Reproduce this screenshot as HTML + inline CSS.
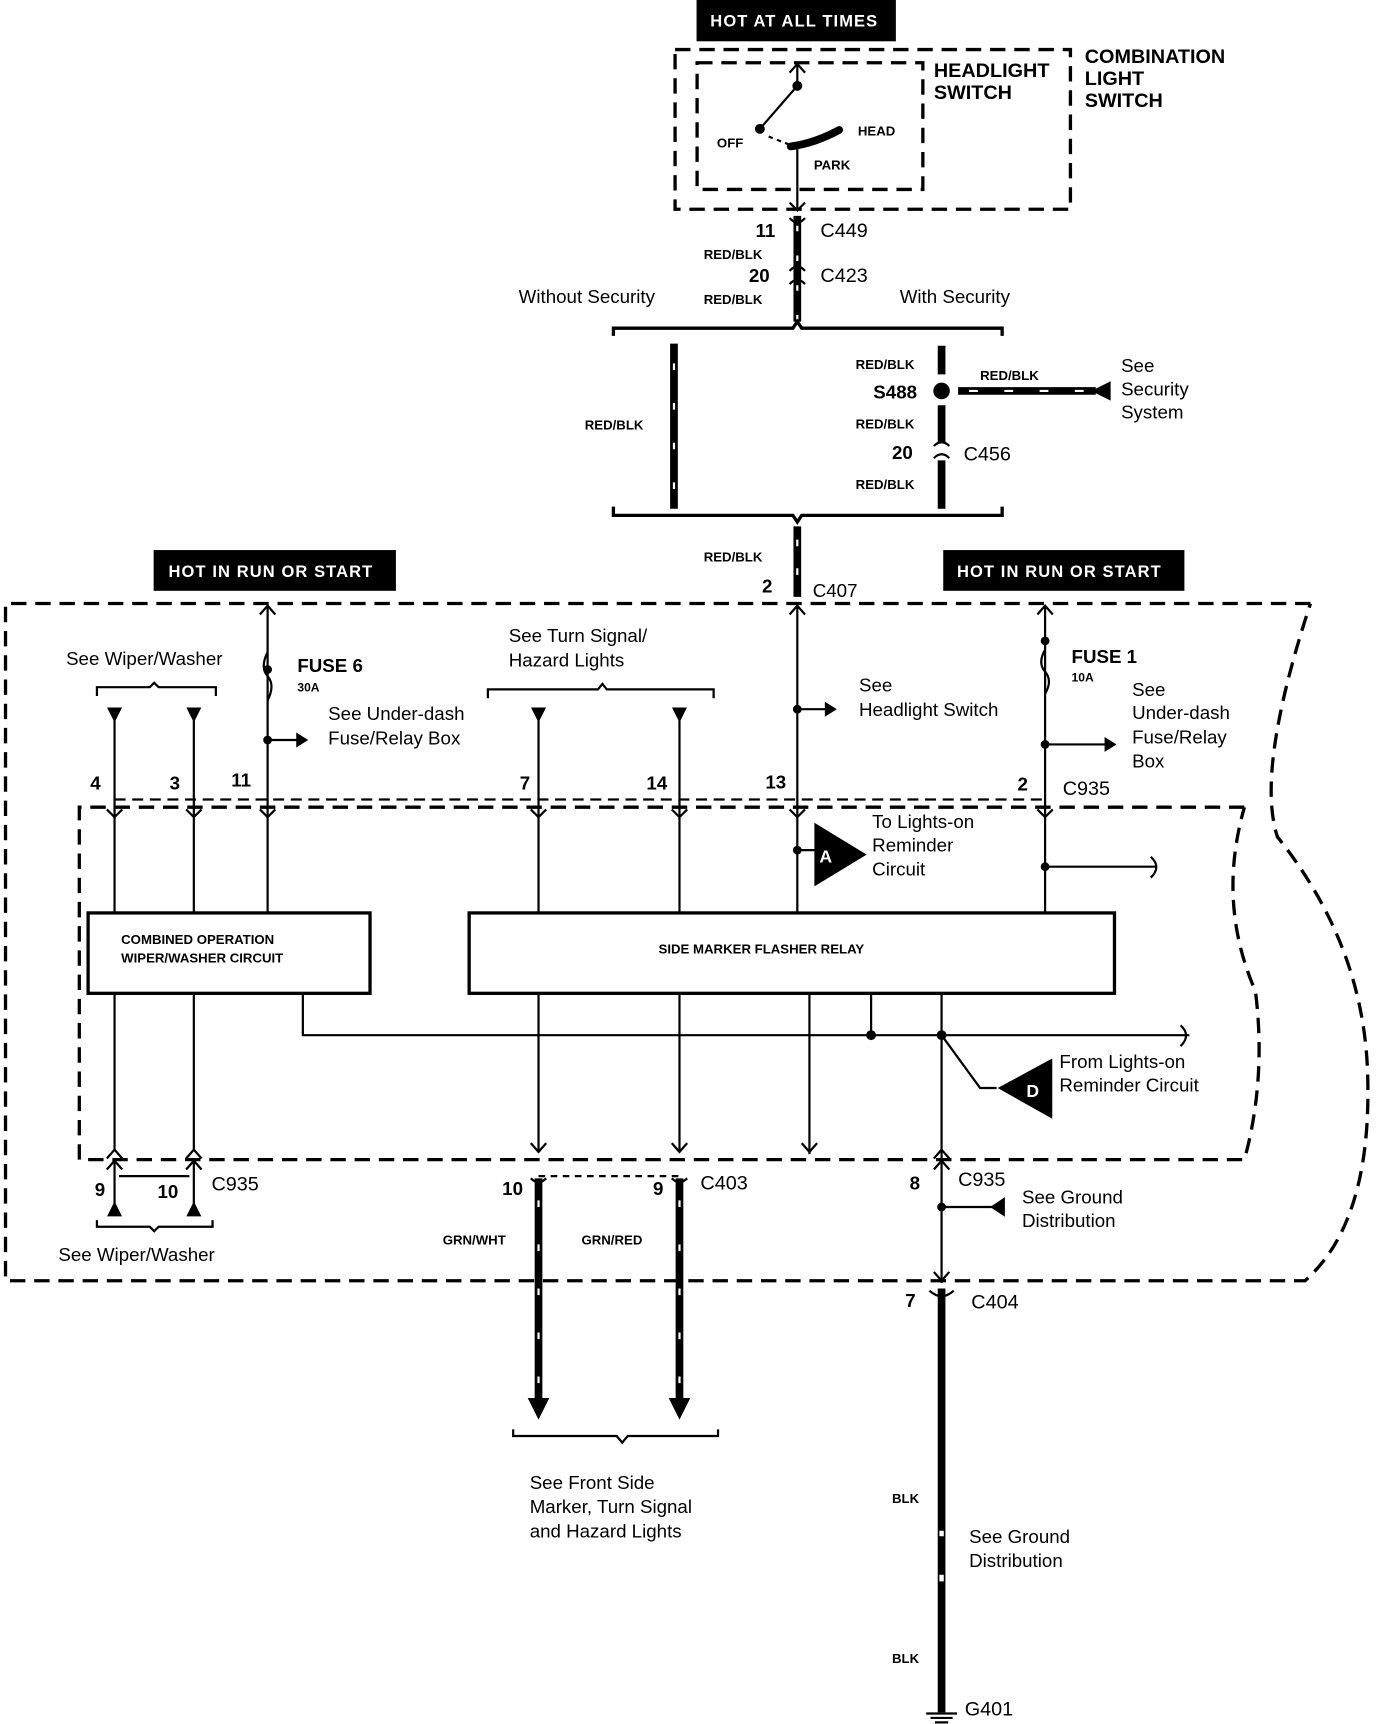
<!DOCTYPE html>
<html><head><meta charset="utf-8"><style>
html,body{margin:0;padding:0;background:#fff;}
svg{display:block;}
text{font-family:"Liberation Sans",sans-serif;fill:#000;}
.b{font-weight:bold;}
</style></head><body>
<svg width="1392" height="1724" viewBox="0 0 1264 1565.5" xmlns="http://www.w3.org/2000/svg">
<defs>
<marker id="ah" markerWidth="10" markerHeight="10" refX="9" refY="5" orient="auto"><path d="M0,1 L10,5 L0,9 Z" fill="#000"/></marker>
</defs>
<g fill="none" stroke="#000">
<!-- top labels -->
<rect x="633" y="0" width="180" height="37" fill="#000"/>
<rect x="140" y="500" width="219" height="36" fill="#000"/>
<rect x="857" y="500" width="218" height="36" fill="#000"/>
<!-- switch boxes -->
<rect x="613" y="45" width="359" height="145" stroke-width="3" stroke-dasharray="14 8"/>
<rect x="633" y="57" width="205" height="115" stroke-width="3" stroke-dasharray="14 8"/>
<path d="M724 58 V78 L690 117" stroke-width="2"/>
<circle cx="724" cy="78" r="4" fill="#000"/><circle cx="690" cy="117" r="4" fill="#000"/>
<path d="M698 124 L716 131" stroke-width="2" stroke-dasharray="4 4"/>
<path d="M718 133 Q740 130 762 118" stroke-width="7" stroke-linecap="round"/>
<path d="M724 132 V190" stroke-width="2"/>
<path d="M717 66 L724 58 L731 66 M717 184 L724 191 L731 184" stroke-width="2"/>
<!-- main feed wire -->
<path d="M724 196 V292" stroke-width="7"/>
<path d="M724 205 V290" stroke="#fff" stroke-width="2" stroke-dasharray="5 22"/>
<path d="M717 198 Q724 206 731 198 M717 246 Q724 238 731 246 M717 258 Q724 250 731 258" stroke-width="2" fill="none"/>
<!-- brackets -->
<path d="M557 305 V298 H720 L724 292 L728 298 H910 V305" stroke-width="3"/>
<path d="M557 460 V468 H720 L724 474 L728 468 H910 V460" stroke-width="3"/>
<path d="M612 312 V462" stroke-width="7"/><path d="M612 330 V460" stroke="#fff" stroke-width="2" stroke-dasharray="6 30"/>
<path d="M855 314 V340 M855 368 V402 M855 418 V462" stroke-width="7"/>
<circle cx="855" cy="355" r="7" fill="#000"/>
<path d="M870 355 H995" stroke-width="7"/>
<path d="M880 355 H990" stroke="#fff" stroke-width="2" stroke-dasharray="8 24"/>
<path d="M992 355 L1008 347 V363 Z" fill="#000"/>
<path d="M848 405 Q855 398 862 405 M848 416 Q855 409 862 416" stroke-width="2"/>
<!-- C407 wire -->
<path d="M724 478 V542" stroke-width="7"/>
<path d="M724 490 V530" stroke="#fff" stroke-width="2" stroke-dasharray="6 20"/>
<!-- big outer dashed -->
<path d="M1190 548 H5 V1163 H1185 Q1245 1110 1242 980 Q1240 860 1160 760 Q1140 700 1190 548" stroke-width="3" stroke-dasharray="14 8"/>
<!-- inner dashed -->
<path d="M1130 733 H72 V1053 H1130 Q1150 980 1140 900 Q1105 820 1130 733" stroke-width="3" stroke-dasharray="14 8"/>
<path d="M104 726 H950" stroke-width="2" stroke-dasharray="10 6"/>
<!-- vertical wires -->
<g stroke-width="2">
<path d="M104 645 V1045 M176 645 V1045 M243 550 V828 M489 645 V1045 M617 645 V1045 M724 550 V828 M949 550 V828"/>
<path d="M275 902 V940 H1080 M735 902 V1048 M791 902 V940 M855 902 V1048 M855 940 L890 988 H905"/>
<path d="M855 1048 V1165 M855 1096 H905 M724 772 H740 M949 787 H1050 M243 672 H278 M724 644 H758 M949 676 H1010"/>
<path d="M104 1055 V1100 M176 1055 V1100 M108 1068 H172"/>
<path d="M236 558 L243 550 L250 558 M717 558 L724 550 L731 558 M942 558 L949 550 L956 558"/>
<path d="M97 1052 L104 1044 L111 1052 M169 1052 L176 1044 L183 1052 M848 1052 L855 1044 L862 1052 M97 1062 L104 1054 L111 1062 M169 1062 L176 1054 L183 1062 M848 1062 L855 1054 L862 1062"/>
<path d="M482 1038 L489 1046 L496 1038 M610 1038 L617 1046 L624 1038 M728 1038 L735 1046 L742 1038 M848 1155 L855 1163 L862 1155"/>
<path d="M97 735 L104 742 L111 735 M169 735 L176 742 L183 735 M236 735 L243 742 L250 735 M482 735 L489 742 L496 735 M610 735 L617 742 L624 735 M717 735 L724 742 L731 735 M942 735 L949 742 L956 735"/>
<path d="M1045 778 Q1055 787 1045 797 M1072 931 Q1082 940 1072 950 M243 592 Q236 606 243 614 Q250 622 243 636 M949 590 Q942 602 949 610 Q956 618 949 630"/>
<path d="M88 632 V624 H136 L140 620 L144 624 H196 V632 M443 634 V626 H543 L547 621 L551 626 H648 V634 M88 1108 V1114 H136 L140 1118 L144 1114 H193 V1108 M466 1298 V1304 H560 L565 1310 L570 1304 H652 V1298"/>
<path d="M489 1068 H617" stroke-dasharray="6 5"/>
</g>
<path d="M278 672 L270 667 V677 Z M758 644 L750 639 V649 Z M1012 676 L1004 671 V681 Z" fill="#000" stroke-width="2"/>
<path d="M98 643 H110 L104 655 Z M170 643 H182 L176 655 Z M483 643 H495 L489 655 Z M611 643 H623 L617 655 Z" fill="#000"/>
<path d="M98 1104 H110 L104 1092 Z M170 1104 H182 L176 1092 Z" fill="#000"/>
<path d="M912 1096 V1088 L900 1096 L912 1104 Z" fill="#000"/>
<circle cx="243" cy="608" r="3.5" fill="#000"/><circle cx="243" cy="672" r="3.5" fill="#000"/>
<circle cx="724" cy="644" r="3.5" fill="#000"/><circle cx="724" cy="772" r="3.5" fill="#000"/>
<circle cx="949" cy="582" r="3.5" fill="#000"/><circle cx="949" cy="676" r="3.5" fill="#000"/><circle cx="949" cy="787" r="3.5" fill="#000"/>
<circle cx="791" cy="940" r="4" fill="#000"/><circle cx="855" cy="940" r="4" fill="#000"/><circle cx="855" cy="1096" r="3.5" fill="#000"/>
<!-- boxes -->
<rect x="80" y="829" width="256" height="73" stroke-width="3" fill="#fff"/>
<rect x="426" y="829" width="586" height="73" stroke-width="3" fill="#fff"/>
<!-- A and D -->
<path d="M740 748 L786 776 L740 804 Z M955 962 L907 988 L955 1015 Z" fill="#000"/>
<!-- lower wires -->
<path d="M489 1070 V1275 M617 1070 V1275" stroke-width="7"/>
<path d="M489 1090 V1270 M617 1090 V1270" stroke="#fff" stroke-width="2" stroke-dasharray="6 34"/>
<path d="M480 1270 H498 L489 1288 Z M608 1270 H626 L617 1288 Z" fill="#000"/>
<path d="M855 1170 V1555" stroke-width="7"/>
<path d="M855 1390 V1395 M855 1430 V1436" stroke="#fff" stroke-width="4"/>
<path d="M844 1172 Q855 1182 866 1172 M482 1070 Q489 1077 496 1070 M610 1070 Q617 1077 624 1070" stroke-width="2"/>
<path d="M841 1556 H869 M845 1560 H865 M849 1564 H861" stroke-width="2"/>
</g>
<g font-size="13" class="b">
<text x="645" y="24" fill="#fff" style="fill:#fff" font-size="15" letter-spacing="1">HOT AT ALL TIMES</text>
<text x="153" y="524" style="fill:#fff" font-size="15" letter-spacing="1">HOT IN RUN OR START</text>
<text x="869" y="524" style="fill:#fff" font-size="15" letter-spacing="1">HOT IN RUN OR START</text>
</g>
<g font-weight="bold">
<text x="848" y="70" font-size="18">HEADLIGHT</text><text x="848" y="90" font-size="18">SWITCH</text>
<text x="985" y="57" font-size="18">COMBINATION</text><text x="985" y="77" font-size="18">LIGHT</text><text x="985" y="97" font-size="18">SWITCH</text>
<text x="651" y="134" font-size="12">OFF</text><text x="779" y="123" font-size="12">HEAD</text><text x="739" y="154" font-size="12">PARK</text>
<g font-size="12">
<text x="639" y="235">RED/BLK</text><text x="639" y="276">RED/BLK</text><text x="531" y="390">RED/BLK</text>
<text x="777" y="335">RED/BLK</text><text x="890" y="345">RED/BLK</text><text x="777" y="389">RED/BLK</text><text x="777" y="444">RED/BLK</text>
<text x="639" y="510">RED/BLK</text><text x="402" y="1130">GRN/WHT</text><text x="528" y="1130">GRN/RED</text>
<text x="810" y="1365">BLK</text><text x="810" y="1510">BLK</text>
<text x="110" y="857">COMBINED OPERATION</text><text x="110" y="874">WIPER/WASHER CIRCUIT</text>
<text x="598" y="866">SIDE MARKER FLASHER RELAY</text>
<text x="270" y="628" font-size="11">30A</text><text x="973" y="619" font-size="11">10A</text>
</g>
<g font-size="17">
<text x="686" y="215">11</text><text x="680" y="256">20</text><text x="793" y="362">S488</text><text x="810" y="417">20</text><text x="692" y="538">2</text>
<text x="270" y="610">FUSE 6</text><text x="973" y="602">FUSE 1</text>
<text x="82" y="717">4</text><text x="154" y="717">3</text><text x="210" y="714">11</text><text x="472" y="717">7</text><text x="587" y="717">14</text><text x="695" y="716">13</text><text x="924" y="718">2</text>
<text x="86" y="1086">9</text><text x="143" y="1088">10</text><text x="456" y="1085">10</text><text x="593" y="1085">9</text><text x="826" y="1080">8</text><text x="822" y="1187">7</text>
<text x="738" y="542" font-weight="normal">C407</text>
</g>
</g>
<g font-size="18">
<text x="745" y="215">C449</text><text x="745" y="256">C423</text><text x="875" y="418">C456</text>
<text x="965" y="722">C935</text><text x="192" y="1081">C935</text><text x="636" y="1080">C403</text><text x="870" y="1077">C935</text><text x="882" y="1188">C404</text><text x="876" y="1558">G401</text>
</g>
<g font-size="17">
<text x="471" y="275">Without Security</text><text x="817" y="275">With Security</text>
<text x="1018" y="338">See</text><text x="1018" y="359">Security</text><text x="1018" y="380">System</text>
<text x="60" y="604">See Wiper/Washer</text>
<text x="462" y="583">See Turn Signal/</text><text x="462" y="605">Hazard Lights</text>
<text x="298" y="654">See Under-dash</text><text x="298" y="676">Fuse/Relay Box</text>
<text x="780" y="628">See</text><text x="780" y="650">Headlight Switch</text>
<text x="1028" y="632">See</text><text x="1028" y="653">Under-dash</text><text x="1028" y="675">Fuse/Relay</text><text x="1028" y="697">Box</text>
<text x="792" y="752">To Lights-on</text><text x="792" y="773">Reminder</text><text x="792" y="795">Circuit</text>
<text x="962" y="970">From Lights-on</text><text x="962" y="991">Reminder Circuit</text>
<text x="928" y="1093">See Ground</text><text x="928" y="1114">Distribution</text>
<text x="53" y="1145">See  Wiper/Washer</text>
<text x="481" y="1352">See Front Side</text><text x="481" y="1374">Marker, Turn Signal</text><text x="481" y="1396">and Hazard Lights</text>
<text x="880" y="1401">See Ground</text><text x="880" y="1423">Distribution</text>
</g>
<g font-size="16" font-weight="bold" style="fill:#fff">
<text x="744" y="783" style="fill:#fff">A</text><text x="932" y="996" style="fill:#fff">D</text>
</g>
</svg>
</body></html>
